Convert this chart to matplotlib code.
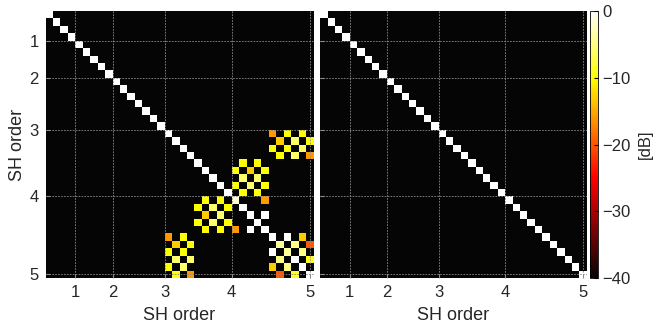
import numpy as np
import matplotlib.pyplot as plt
from matplotlib.colors import LinearSegmentedColormap

plt.rcParams['font.family'] = ['Liberation Sans', 'DejaVu Sans']

# SH orders 0..5 -> 36 coefficients
n_max = 5
n_sh = (n_max + 1) ** 2
db_floor = -40

order_labels = ['1', '2', '3', '4', '5']
order_ticks = [4, 9, 16, 25, 35.5]
cbar_ticks = [0, -10, -20, -30, -40]

# diagonal of the aliased Gram matrix (dB), orders 0-4 exact
diag_db = [0] * 25 + [-2, 0, 0, 0, 0, 0, -4, -4, 0, 0, 0]

# order 4 (rows 16-19) vs order 5 (cols 30-35)
block_a = [[-16, -40, -10, -40, -10, -40],
           [-40, -13, -40, -6, -40, -10],
           [-10, -40, -10, -40, -6, -40],
           [-40, -10, -40, -6, -40, -16]]

# order 4 (rows 20-24) vs order 5 (cols 25-29)
block_b = [[-40, -10, -40, -10, -40],
           [-10, -40, -13, -40, -10],
           [-40, -6, -40, -6, -40],
           [-10, -40, -6, -40, -10],
           [-40, -10, -40, -10, -40]]

# order 5 vs order 5, cols/rows 25-29 (off-diagonal only)
pairs_x = [(25, 29, -16), (27, 29, 0)]

# order 5 vs order 5, rows/cols 30-35 (off-diagonal only)
block_e = [[-40, -40, 0, -40, -13, -40],
           [-40, -40, -40, -5, -40, -20],
           [0, -40, -40, -40, -5, -40],
           [-40, -5, -40, -40, -40, -9],
           [-13, -40, -5, -40, -40, -40],
           [-40, -20, -40, -9, -40, -40]]

# aliased matrix (left)
M_alias = np.full((n_sh, n_sh), float(db_floor))
A = np.array(block_a, float)
B = np.array(block_b, float)
M_alias[16:20, 30:36] = A
M_alias[30:36, 16:20] = A.T
M_alias[20:25, 25:30] = B
M_alias[25:30, 20:25] = B.T
for i, j, v in pairs_x:
    M_alias[i, j] = v
    M_alias[j, i] = v
M_alias[30:36, 30:36] = np.array(block_e, float)
M_alias[np.arange(n_sh), np.arange(n_sh)] = diag_db

# exact matrix (right)
M_exact = np.full((n_sh, n_sh), float(db_floor))
np.fill_diagonal(M_exact, 0)

# hot map starting from near black
cmap = LinearSegmentedColormap.from_list(
    'hot_k', [(0, '#050505'), (0.375, 'red'), (0.75, 'yellow'), (1, 'white')])

fig = plt.figure(figsize=(6.6, 3.24), dpi=100)
ax1 = fig.add_axes([0.069, 0.142, 0.406, 0.824])
ax2 = fig.add_axes([0.485, 0.142, 0.404, 0.824])
cax = fig.add_axes([0.894, 0.142, 0.0115, 0.824])

txt = '#262626'
edges = np.arange(n_sh + 1)
for ax, M in [(ax1, M_alias), (ax2, M_exact)]:
    mesh = ax.pcolormesh(edges, edges, M, cmap=cmap, vmin=db_floor, vmax=0,
                         edgecolors='none', antialiased=True)
    ax.set_xlim(0, n_sh)
    ax.set_ylim(n_sh, 0)
    ax.set_xticks(order_ticks)
    ax.set_xticklabels(order_labels)
    ax.set_yticks(order_ticks)
    ax.grid(True, ls=(0, (2, 1.5)), color='#8c8c8c', lw=0.6)
    ax.set_axisbelow(False)
    ax.tick_params(direction='in', length=3, color='#8c8c8c',
                   labelsize=12, labelcolor=txt, pad=5)
    for s in ax.spines.values():
        s.set_visible(False)
    ax.set_xlabel('SH order', fontsize=13, color=txt, labelpad=5)

ax1.set_yticklabels(order_labels)
ax1.set_ylabel('SH order', fontsize=13, color=txt, labelpad=2)
ax2.set_yticklabels([])

cb = fig.colorbar(mesh, cax=cax, ticks=cbar_ticks)
cb.ax.tick_params(labelsize=12, labelcolor=txt, length=3, direction='in')
cb.outline.set_linewidth(0.6)
cb.set_label('[dB]', fontsize=12, color=txt, labelpad=5)

fig.savefig('out.png', dpi=100)
